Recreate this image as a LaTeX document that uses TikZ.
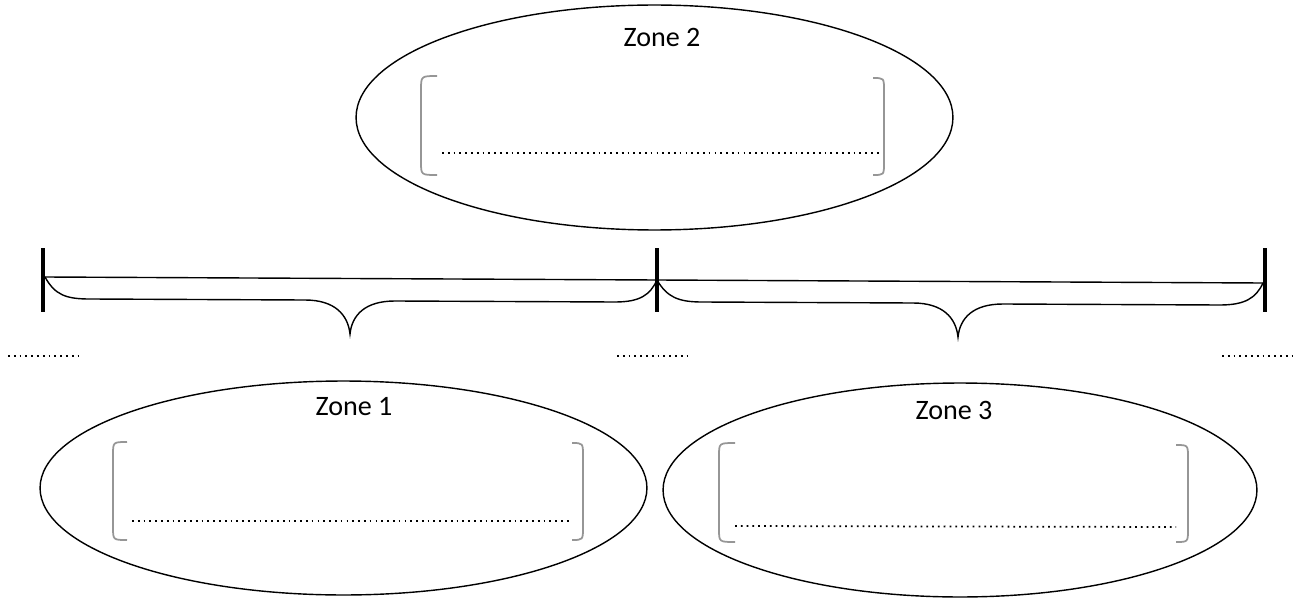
\documentclass[tikz,border=0pt]{standalone}
\usepackage{fontspec}
\setmainfont{Carlito}
\usetikzlibrary{shapes.geometric}
\definecolor{bracketgray}{RGB}{150,150,150}

\begin{document}
\begin{tikzpicture}[x=0.02cm, y=-0.02cm,
    zone/.style={draw, ellipse, inner sep=0pt, line width=0.8pt},
    zonelabel/.style={font=\fontsize{16}{19}\selectfont},
    dots/.style={line width=1pt, dash pattern=on 1pt off 2.3pt},
    bracket/.style={bracketgray, line width=1pt},
    bar/.style={line width=2.8pt},
    brace/.style={line width=0.8pt}]
  \useasboundingbox (0,0) rectangle (1307,601);

  % Zones
  \node[zone, minimum width=11.94cm, minimum height=4.5cm] (zonetwo) at (654.5,117.5) {};
  \node[zone, minimum width=12.14cm, minimum height=4.28cm] (zoneone) at (343.5,488) {};
  \node[zone, minimum width=11.88cm, minimum height=4.28cm] (zonethree) at (960,490) {};

  % Zone labels
  \node[zonelabel] (labeltwo) at (662,37) {Zone 2};
  \node[zonelabel] (labelone) at (354,407) {Zone 1};
  \node[zonelabel] (labelthree) at (954,410) {Zone 3};

  % Brackets and dotted lines inside zones
  \draw[bracket] (437,76) .. controls (421,76) .. (421,90) -- (421,162) .. controls (421,175) .. (437,175);
  \draw[bracket] (873,78) .. controls (884,78) .. (884,90) -- (884,163) .. controls (884,175) .. (873,175);
  \draw[dots] (442,153) -- (880,153);

  \draw[bracket] (127,442) .. controls (113,442) .. (113,455) -- (113,527) .. controls (113,540) .. (127,540);
  \draw[bracket] (572,443) .. controls (583,443) .. (583,456) -- (583,527) .. controls (583,540) .. (572,540);
  \draw[dots] (132,521) -- (572,521);

  \draw[bracket] (735,443) .. controls (719,443) .. (719,456) -- (719,529) .. controls (719,542) .. (735,542);
  \draw[bracket] (1176,445) .. controls (1188,445) .. (1188,458) -- (1188,529) .. controls (1188,542) .. (1176,542);
  \draw[dots] (735,526) -- (1176,527);

  % Bars
  \coordinate (lefttop) at (43,248);
  \coordinate (leftbot) at (43,312);
  \coordinate (midtop) at (657,248);
  \coordinate (midbot) at (657,312);
  \coordinate (righttop) at (1265,248);
  \coordinate (rightbot) at (1265,312);
  \draw[bar] (lefttop) -- (leftbot);
  \draw[bar] (midtop) -- (midbot);
  \draw[bar] (righttop) -- (rightbot);

  % Segments
  \coordinate (leftend) at (45,277);
  \coordinate (midend) at (657,280);
  \coordinate (rightend) at (1263,283);
  \draw[brace] (leftend) -- (midend) -- (rightend);

  % Braces
  \draw[brace] (leftend) .. controls (55,295) and (66,299) .. (90,299) -- (305,300)
    .. controls (335,300) and (348,315) .. (350,334)
    .. controls (352,315) and (365,301) .. (395,301) -- (615,302)
    .. controls (640,302) and (650,295) .. (midend);
  \draw[brace] (midend) .. controls (667,297) and (678,302) .. (702,302) -- (913,303)
    .. controls (943,303) and (956,318) .. (958,337)
    .. controls (960,318) and (973,304) .. (1003,304) -- (1220,305)
    .. controls (1245,305) and (1256,298) .. (rightend);

  % Dotted marks
  \draw[dots] (8,356) -- (80,356);
  \draw[dots] (617,356) -- (690,356);
  \draw[dots] (1222,356) -- (1295,356);
\end{tikzpicture}
\end{document}
